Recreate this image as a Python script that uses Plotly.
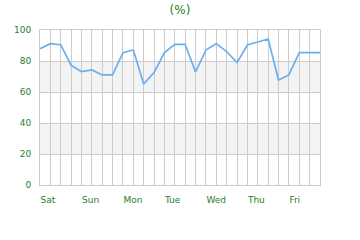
import plotly.graph_objects as go

values = [87.9, 91.2, 90.5, 77.2, 73.1, 74.2, 71.0, 71.0, 85.4, 87.1,
          65.2, 72.5, 85.4, 90.7, 90.7, 72.9, 87.0, 91.2, 86.0, 78.9,
          90.3, 92.3, 94.2, 67.7, 71.0, 85.4, 85.4, 85.4]
day_labels = ["Sat", "Sun", "Mon", "Tue", "Wed", "Thu", "Fri"]
points_per_day = 4
bands = [(20, 40), (60, 80)]

x = list(range(len(values)))
green = "#2b7d2b"
font_family = "DejaVu Sans"

fig = go.Figure()
fig.add_trace(go.Scatter(x=x, y=values, mode="lines",
                         line=dict(color="#6aaff2", width=1.7)))

for lo, hi in bands:
    fig.add_shape(type="rect", xref="paper", yref="y", x0=0, x1=1, y0=lo, y1=hi,
                  fillcolor="#f3f3f3", line=dict(width=0), layer="below")

fig.update_layout(
    width=360, height=240,
    margin=dict(l=40, r=40, t=30, b=55),
    paper_bgcolor="white", plot_bgcolor="white",
    showlegend=False,
    title=dict(text="(%)", x=0.5, xanchor="center", y=1 - 10 / 240, yanchor="middle",
               font=dict(family=font_family, size=12, color=green)),
    font=dict(family=font_family, size=9, color=green),
)
fig.update_xaxes(
    range=[0, len(values) - 1],
    tickmode="array",
    tickvals=[i * points_per_day for i in range(len(day_labels))],
    ticktext=day_labels,
    ticklabelposition="outside right",
    ticklabelstandoff=6,
    showgrid=False,
    showline=True, linecolor="#cccccc", linewidth=1, mirror=True,
    ticks="", zeroline=False,
    tickfont=dict(family=font_family, size=9, color=green),
)
# vertical grid at each point
fig.update_xaxes(minor=dict(tickmode="array", tickvals=x, showgrid=True,
                            gridcolor="#cccccc", gridwidth=1))
fig.update_yaxes(
    range=[0, 100], tickvals=[0, 20, 40, 60, 80, 100],
    showgrid=True, gridcolor="#cccccc", gridwidth=1,
    showline=True, linecolor="#cccccc", linewidth=1, mirror=True,
    zeroline=False, ticks="outside", ticklen=6, tickcolor="rgba(0,0,0,0)",
    tickfont=dict(family=font_family, size=9, color=green),
)

fig.write_html("out.html")
